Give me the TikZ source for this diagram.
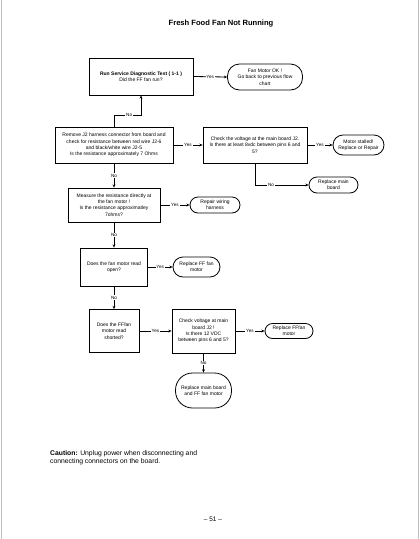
\documentclass[tikz,border=0pt]{standalone}
\usepackage{fontspec}
\setmainfont{Liberation Sans}
\usetikzlibrary{arrows.meta}
\begin{document}
\begin{tikzpicture}[x=1pt,y=-1pt,
  every node/.style={font=\fontsize{5}{6.3}\selectfont, align=center, inner sep=0pt},
  pbox/.style={draw, line width=0.8pt, rectangle},
  term/.style={draw, line width=0.8pt, rectangle, rounded corners=#1},
  conn/.style={line width=0.8pt, -{Stealth[length=3.2pt,width=2.8pt]}},
  lbl/.style={fill=white, inner sep=0.8pt, font=\fontsize{4.6}{5}\selectfont}]
\useasboundingbox (0,0) rectangle (420,539);
\draw[black!25, line width=0.8pt] (1,0) -- (1,539);
\draw[black!25, line width=0.8pt] (418.5,0) -- (418.5,539);

\node (title) at (221,24) {\fontsize{7.6}{9}\selectfont\bfseries Fresh Food Fan Not Running};

\node[pbox, minimum width=104pt, minimum height=37pt] (box1) at (141,76.5)
  {{\bfseries Run Service Diagnostic Test ( 1-1 )}\\Did the FF fan run?};
\node[term=12pt, minimum width=75pt, minimum height=26pt] (t1) at (265,77)
  {Fan Motor OK !\\Go back to previous flow\\chart};

\node[pbox, minimum width=118pt, minimum height=36pt] (box2) at (114,145)
  {Remove J2 harness connector from board and\\check for resistance between red wire J2-6\\and black/white wire J2-5\\Is the resistance approximately 7 Ohms};
\node[pbox, minimum width=104pt, minimum height=36pt] (box3) at (255,145)
  {Check the voltage at the main board J2.\\Is there at least 8vdc between pins 6 and\\5?};
\node[term=10pt, minimum width=51pt, minimum height=20pt] (t2) at (358.5,145)
  {Motor stalled!\\Replace or Repair};
\node[term=8pt, minimum width=49pt, minimum height=16pt] (t3) at (333.5,185)
  {Replace main\\board};

\node[pbox, minimum width=92pt, minimum height=34pt] (box4) at (114,205)
  {Measure the resistance directly at\\the fan motor !\\Is the resistance approximatley\\7ohms?};
\node[term=8pt, minimum width=50pt, minimum height=16pt] (t4) at (215,205)
  {Repair wiring\\harness};

\node[pbox, minimum width=67pt, minimum height=38pt] (box5) at (114,267)
  {Does the fan motor read\\open?};
\node[term=10pt, minimum width=47pt, minimum height=20pt] (t5) at (196.5,267)
  {Replace FF fan\\motor};

\node[pbox, minimum width=50pt, minimum height=43pt] (box6) at (114,331)
  {Does the FFfan\\motor read\\shorted?};
\node[pbox, minimum width=63pt, minimum height=44pt] (box7) at (203.5,331)
  {Check voltage at main\\board J2 !\\Is there 12 VDC\\between pins 6 and 5?};
\node[term=7.5pt, minimum width=48pt, minimum height=15pt] (t6) at (289,331)
  {Replace FFfan\\motor};
\node[term=17pt, minimum width=56pt, minimum height=35pt] (t7) at (203.5,390.5)
  {Replace main board\\and FF fan motor};

\coordinate (k1) at (141,115);

\draw[conn] (box1.east) -- node[lbl]{Yes} (t1.west);
\draw[conn] (box2.north) |- node[lbl,pos=0.78]{No} (k1) -- (box1.south);
\draw[conn] (box2.east) -- node[lbl]{Yes} (box3.west);
\draw[conn] (box3.east) -- node[lbl]{Yes} (t2.west);
\draw[conn] (box3.south) |- node[lbl,pos=0.65]{No} (t3.west);
\draw[conn] (box2.south) -- node[lbl]{No} (box4.north);
\draw[conn] (box4.east) -- node[lbl]{Yes} (t4.west);
\draw[conn] (box4.south) -- node[lbl]{No} (box5.north);
\draw[conn] (box5.east) -- node[lbl]{Yes} (t5.west);
\draw[conn] (box5.south) -- node[lbl]{No} (box6.north);
\draw[conn] (box6.east) -- node[lbl]{Yes} (box7.west);
\draw[conn] (box7.east) -- node[lbl]{Yes} (t6.west);
\draw[conn] (box7.south) -- node[lbl]{No} (t7.north);

\node[anchor=north west, align=left, font=\fontsize{6.8}{8.8}\selectfont] (caution) at (50,450)
  {\textbf{Caution:} Unplug power when disconnecting and\\connecting connectors on the board.};
\node[font=\fontsize{6.5}{8}\selectfont] (page) at (213,519) {-- 51 --};
\end{tikzpicture}
\end{document}
